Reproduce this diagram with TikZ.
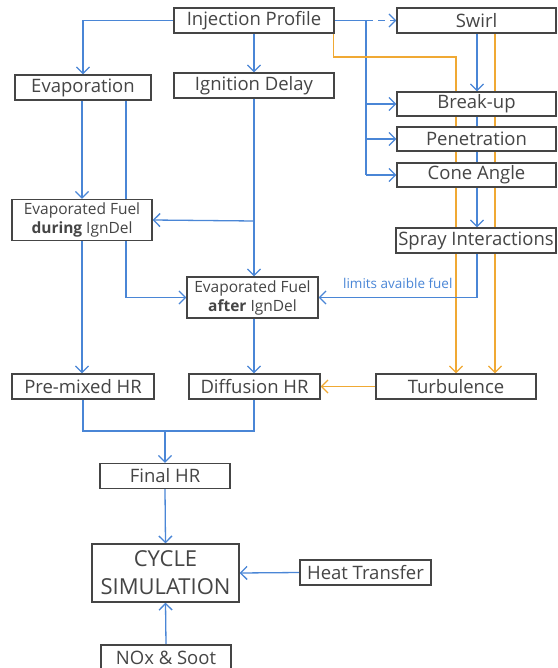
\documentclass[tikz,border=0pt]{standalone}
\usepackage{fontspec}
\setmainfont{Open Sans}
\usetikzlibrary{
  arrows.meta,
  positioning,
  calc,
  backgrounds
}
\definecolor{fcLine}{HTML}{4A86D6}
\definecolor{fcTurb}{HTML}{F0A934}
\definecolor{fcBox}{HTML}{454545}
\tikzset{
  fcnode/.style={
    draw=fcBox, fill=white, line width=1.2pt, text=fcBox, inner sep=0pt,
    minimum height=25pt, font=\fontsize{18.5}{20}\selectfont, align=center
  },
  fuelbox/.style={fcnode, minimum height=41pt, font=\fontsize{15.5}{19}\selectfont},
  simbox/.style={fcnode, minimum height=58pt, font=\fontsize{22}{28}\selectfont},
  flow/.style={-{Straight Barb[length=6.5pt, width=13pt]}, line width=1.3pt, fcLine},
  link/.style={line width=1.3pt, fcLine},
  turb/.style={-{Straight Barb[length=6.5pt, width=13pt]}, line width=1.3pt, fcTurb},
  tag/.style={font=\fontsize{13.5}{15}\selectfont, text=fcLine, inner sep=1pt}
}

\begin{document}
\begin{tikzpicture}[x=1pt, y=-1pt]
  \useasboundingbox (0,0) rectangle (557,668);
  % top row
  \node[fcnode, minimum width=160pt] (inj) at (254,20.5) {Injection Profile};
  \node[fcnode, minimum width=159pt] (swirl) at (476.5,20.5) {Swirl};
  \node[fcnode, minimum width=136pt] (evap) at (83,87.5) {Evaporation};
  \node[fcnode, minimum width=160pt] (igndel) at (254,85.5) {Ignition Delay};
  % spray column
  \node[fcnode, minimum width=159pt, minimum height=24pt] (breakup) at (476.5,104) {Break-up};
  \node[fcnode, minimum width=159pt, minimum height=24pt] (pen) at (476.5,139) {Penetration};
  \node[fcnode, minimum width=159pt, minimum height=24pt] (cone) at (476.5,175) {Cone Angle};
  \node[fcnode, minimum width=160pt] (spray) at (476,240.5) {Spray Interactions};
  % evaporated fuel
  \node[fuelbox, minimum width=140pt] (efd) at (82,220) {Evaporated Fuel\\\textbf{during} IgnDel};
  \node[fuelbox, minimum width=131pt] (efa) at (252.5,297.5) {Evaporated Fuel\\\textbf{after} IgnDel};
  % heat release
  \node[fcnode, minimum width=142pt] (premix) at (83,386.5) {Pre-mixed HR};
  \node[fcnode, minimum width=131pt] (diff) at (254.5,386.5) {Diffusion HR};
  \node[fcnode, minimum width=160pt] (turbul) at (456,386.5) {Turbulence};
  \node[fcnode, minimum width=130pt] (final) at (165,476) {Final HR};
  \node[simbox, minimum width=147pt] (cycle) at (165.5,573) {CYCLE\\SIMULATION};
  \node[fcnode, minimum width=131pt] (heat) at (365.5,572.5) {Heat Transfer};
  \node[fcnode, minimum width=130pt] (nox) at (166,657.5) {NOx \& Soot};

  \begin{scope}[on background layer]
  % injection profile outputs
  \draw[flow] (inj.west) -| (evap.north);
  \draw[flow] (inj.south) -- (igndel.north);
  \coordinate (split) at (366,20.5);
  \draw[link] (inj.east) -- (split);
  \draw[flow, dash pattern=on 7pt off 5pt] (split) -- (swirl.west);
  \draw[link] (split) -- (split |- cone.west);
  \foreach \n in {breakup, pen, cone}
    \draw[flow] (split |- \n.west) -- (\n.west);
  \draw[turb] ($(inj.south east)+(-1,0)$) |- (456,57) -- (456,0 |- turbul.north);
  \draw[turb] (495,0 |- swirl.south) -- (495,0 |- turbul.north);
  % swirl through the spray column
  \draw[flow] (477,0 |- swirl.south) -- (477,0 |- breakup.north);
  \draw[flow] (477,0 |- breakup.south) -- (477,0 |- spray.north);
  \draw[flow] (477,0 |- spray.south) |- (efa.east)
    node[tag, pos=0.75, above=7pt] {limits avaible fuel};
  % evaporation and ignition delay
  \draw[flow] (evap.south -| efd.north) -- (efd.north);
  \draw[flow] (126,0 |- evap.south) |- (efa.west);
  \draw[flow] (igndel.south) -- (igndel.south |- efa.north);
  \draw[flow] (254,221) -- (efd.east);
  \draw[flow] (efd.south) -- (efd.south |- premix.north);
  \draw[flow] (efa.south -| igndel.south) -- (igndel.south |- diff.north);
  \draw[turb] (turbul.west) -- (diff.east);
  % heat release to simulation
  \coordinate (join) at (final.north |- 0,431);
  \draw[link] (premix.south) |- (join) -| (254,0 |- diff.south);
  \draw[flow] (join) -- (final.north);
  \draw[flow] (final.south) -- (cycle.north);
  \draw[flow] (heat.west) -- (cycle.east);
  \draw[flow] (nox.north) -- (cycle.south);
  \end{scope}
\end{tikzpicture}
\end{document}
